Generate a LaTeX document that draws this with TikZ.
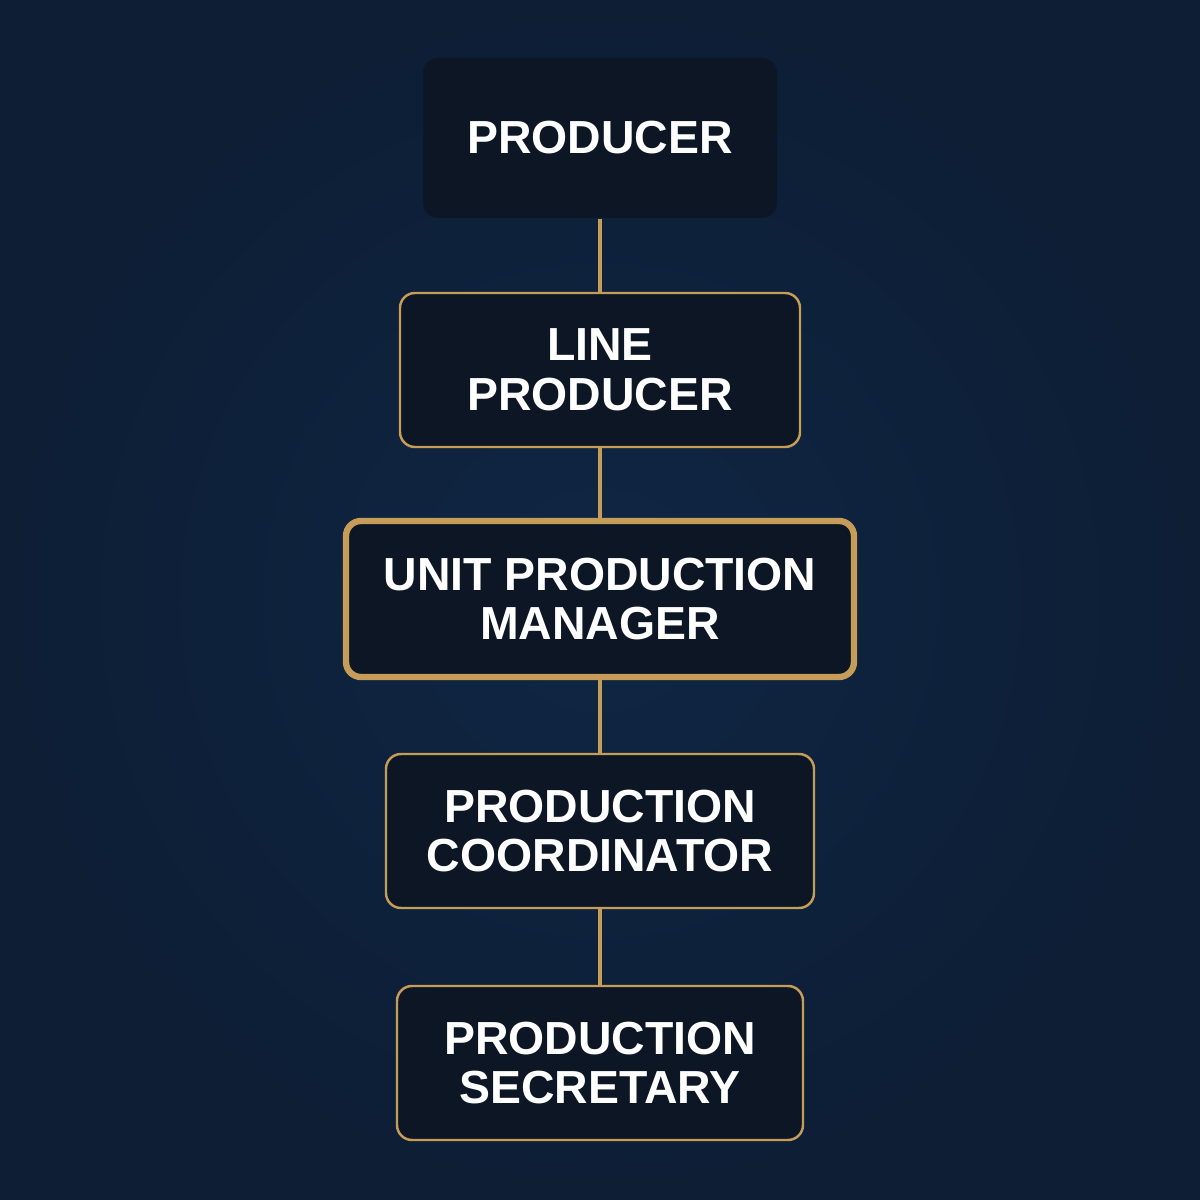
\documentclass[tikz,border=0pt]{standalone}
\usepackage{fontspec}
\setmainfont{Liberation Sans}
\definecolor{navy}{RGB}{16,38,68}
\definecolor{navydark}{RGB}{13,30,53}
\definecolor{boxfill}{RGB}{12,22,36}
\definecolor{gold}{RGB}{198,157,88}
\tikzset{
  role/.style={rectangle, rounded corners=0.15cm, fill=boxfill, text=white,
    align=center, font=\fontsize{13.2}{14.2}\selectfont\bfseries, inner sep=0pt},
  rolethin/.style={role, draw=gold, line width=0.7pt},
  rolethick/.style={role, draw=gold, line width=1.8pt},
  link/.style={draw=gold, line width=1.1pt}
}
\begin{document}
\begin{tikzpicture}
    % Background
    \shade[inner color=navy, outer color=navydark] (0,0) rectangle (12,12);
    \useasboundingbox (0,0) rectangle (12,12);

    % Roles, top to bottom
    \node[role, minimum width=3.54cm, minimum height=1.60cm] (prod) at (6,10.62) {PRODUCER};
    \node[rolethin, minimum width=4.00cm, minimum height=1.54cm] (lineprod) at (6,8.30) {LINE\\PRODUCER};
    \node[rolethick, minimum width=5.08cm, minimum height=1.56cm] (upm) at (6,6.01) {UNIT PRODUCTION\\MANAGER};
    \node[rolethin, minimum width=4.28cm, minimum height=1.54cm] (coord) at (6,3.69) {PRODUCTION\\COORDINATOR};
    \node[rolethin, minimum width=4.06cm, minimum height=1.54cm] (secr) at (6,1.37) {PRODUCTION\\SECRETARY};

    % Chain of command
    \draw[link] (prod) -- (lineprod);
    \draw[link] (lineprod) -- (upm);
    \draw[link] (upm) -- (coord);
    \draw[link] (coord) -- (secr);
\end{tikzpicture}
\end{document}
